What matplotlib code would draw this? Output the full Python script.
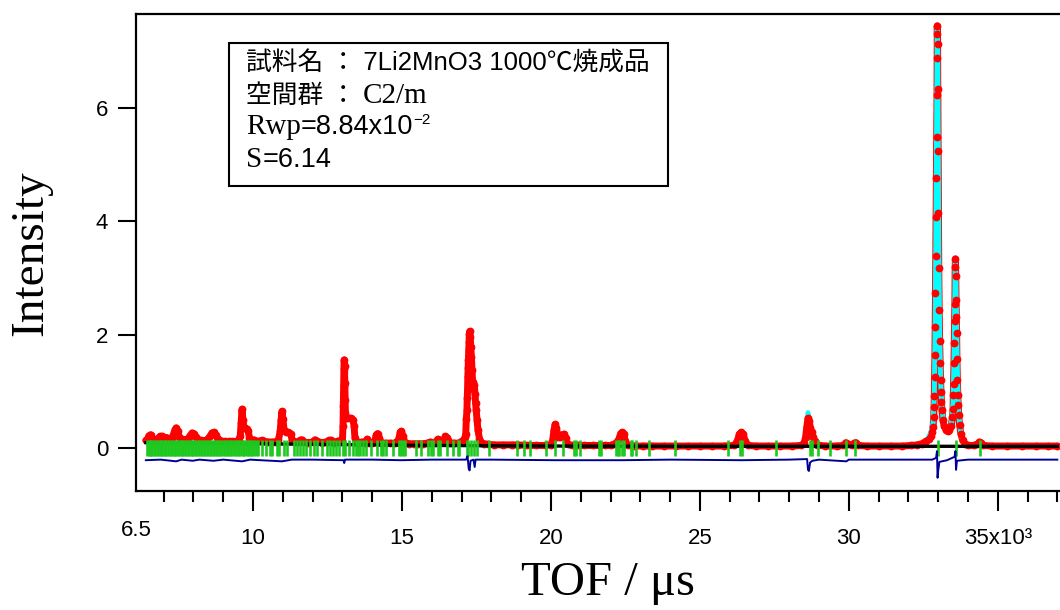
import matplotlib
matplotlib.use('Agg')
import matplotlib.pyplot as plt
from matplotlib.patches import Rectangle

SANS = ['Liberation Sans', 'Noto Sans CJK JP', 'DejaVu Sans']
SERIF = ['Liberation Serif', 'Noto Sans CJK JP', 'DejaVu Serif']
plt.rcParams['font.family'] = SANS

# ---------------- data (TOF in 10^3 us) ----------------
obs_tof = [6.40, 6.45, 6.50, 6.56, 6.62, 6.70, 6.80, 6.88, 6.95, 7.02, 7.10, 7.18, 7.27, 7.33, 7.38, 7.42,
           7.47, 7.52, 7.60, 7.70, 7.80, 7.88, 7.95, 8.01, 8.08, 8.16, 8.26, 8.36, 8.46, 8.55, 8.62, 8.68,
           8.74, 8.82, 8.92, 9.05, 9.18, 9.30, 9.42, 9.52, 9.57, 9.60, 9.63, 9.66, 9.69, 9.74, 9.79, 9.84,
           9.88, 9.95, 10.02, 10.08, 10.18, 10.30, 10.38, 10.50, 10.62, 10.75, 10.85, 10.91, 10.94, 10.97,
           11.00, 11.04, 11.10, 11.18, 11.26, 11.31, 11.40, 11.50, 11.58, 11.64, 11.70, 11.85, 12.00, 12.08,
           12.14, 12.30, 12.45, 12.55, 12.62, 12.72, 12.86, 12.93, 13.00, 13.02, 13.03, 13.04, 13.05, 13.06,
           13.07, 13.08, 13.09, 13.10, 13.13, 13.20, 13.28, 13.35, 13.39, 13.42, 13.48, 13.55, 13.65, 13.75,
           13.83, 13.90, 14.00, 14.08, 14.14, 14.18, 14.23, 14.30, 14.45, 14.60, 14.75, 14.88, 14.94, 14.98,
           15.03, 15.10, 15.25, 15.40, 15.55, 15.70, 15.85, 15.95, 16.10, 16.20, 16.26, 16.38, 16.46, 16.52,
           16.60, 16.75, 16.90, 17.00, 17.08, 17.12, 17.14, 17.16, 17.18, 17.19, 17.20, 17.21, 17.22, 17.23,
           17.24, 17.25, 17.26, 17.27, 17.29, 17.31, 17.33, 17.35, 17.37, 17.40, 17.43, 17.45, 17.47, 17.49,
           17.52, 17.55, 17.60, 17.66, 17.75, 17.90, 18.10, 18.40, 18.70, 18.90, 19.20, 19.50, 19.80, 20.00,
           20.06, 20.10, 20.14, 20.18, 20.24, 20.30, 20.38, 20.44, 20.50, 20.56, 20.70, 20.90, 21.10, 21.40,
           21.60, 21.80, 22.00, 22.12, 22.20, 22.28, 22.34, 22.39, 22.44, 22.50, 22.58, 22.80, 23.10, 23.40,
           23.80, 24.20, 24.60, 25.00, 25.40, 25.80, 26.15, 26.25, 26.33, 26.39, 26.45, 26.53, 26.62, 26.90,
           27.30, 27.70, 28.10, 28.40, 28.50, 28.55, 28.59, 28.63, 28.67, 28.71, 28.75, 28.80, 28.85, 28.92,
           29.20, 29.60, 29.82, 29.90, 29.96, 30.10, 30.18, 30.24, 30.32, 30.60, 31.00, 31.40, 31.80, 32.10,
           32.30, 32.45, 32.58, 32.70, 32.76, 32.80, 32.83, 32.85, 32.86, 32.87, 32.88, 32.89, 32.90, 32.91,
           32.92, 32.93, 32.94, 32.95, 32.96, 32.965, 32.97, 32.975, 32.98, 32.99, 33.00, 33.01, 33.02,
           33.035, 33.05, 33.065, 33.08, 33.095, 33.11, 33.13, 33.16, 33.20, 33.26, 33.32, 33.38, 33.44,
           33.48, 33.50, 33.51, 33.52, 33.53, 33.54, 33.55, 33.56, 33.57, 33.58, 33.59, 33.60, 33.61, 33.62,
           33.63, 33.645, 33.66, 33.675, 33.69, 33.72, 33.76, 33.82, 33.90, 34.00, 34.20, 34.32, 34.38,
           34.44, 34.52, 34.80, 35.30, 35.80, 36.30, 36.70, 37.00]
obs_int = [0.14, 0.15, 0.22, 0.24, 0.16, 0.14, 0.17, 0.21, 0.21, 0.19, 0.19, 0.14, 0.17, 0.25, 0.33, 0.36,
           0.30, 0.20, 0.16, 0.14, 0.16, 0.22, 0.27, 0.26, 0.20, 0.15, 0.14, 0.13, 0.15, 0.21, 0.27, 0.28,
           0.24, 0.16, 0.13, 0.12, 0.12, 0.12, 0.12, 0.13, 0.22, 0.45, 0.69, 0.50, 0.37, 0.35, 0.34, 0.30,
           0.18, 0.13, 0.15, 0.13, 0.12, 0.14, 0.12, 0.11, 0.11, 0.11, 0.14, 0.30, 0.50, 0.65,
           0.52, 0.33, 0.29, 0.28, 0.26, 0.15, 0.11, 0.11, 0.14, 0.15, 0.11, 0.10, 0.11, 0.15,
           0.12, 0.10, 0.11, 0.14, 0.14, 0.10, 0.13, 0.11, 0.13, 0.40, 0.75, 1.10, 1.40, 1.56,
           1.45, 1.15, 0.85, 0.62, 0.54, 0.53, 0.53, 0.50, 0.40, 0.18, 0.10, 0.10, 0.11, 0.10,
           0.16, 0.10, 0.09, 0.12, 0.24, 0.26, 0.18, 0.10, 0.09, 0.09, 0.09, 0.14, 0.28, 0.30,
           0.22, 0.10, 0.08, 0.08, 0.08, 0.08, 0.09, 0.11, 0.09, 0.16, 0.12, 0.12, 0.21, 0.19,
           0.10, 0.09, 0.09, 0.12, 0.14, 0.20, 0.26, 0.52, 0.67, 0.89, 1.02, 1.26, 1.41, 1.55,
           1.73, 1.88, 2.02, 2.06, 1.96, 1.79, 1.61, 1.38, 1.17, 1.10, 1.11, 0.95, 0.80, 0.67,
           0.49, 0.32, 0.17, 0.10, 0.08, 0.07, 0.06, 0.06, 0.06, 0.06, 0.05, 0.05, 0.05, 0.06,
           0.15, 0.32, 0.42, 0.36, 0.20, 0.20, 0.24, 0.25, 0.18, 0.07, 0.05, 0.05, 0.05, 0.05,
           0.05, 0.05, 0.05, 0.07, 0.10, 0.16, 0.26, 0.28, 0.26, 0.12, 0.05, 0.04, 0.04, 0.04,
           0.04, 0.04, 0.04, 0.04, 0.04, 0.04, 0.05, 0.12, 0.25, 0.28, 0.25, 0.12, 0.05, 0.04,
           0.04, 0.04, 0.04, 0.05, 0.09, 0.20, 0.38, 0.53, 0.48, 0.36, 0.28, 0.20, 0.12, 0.06,
           0.04, 0.04, 0.05, 0.10, 0.08, 0.05, 0.09, 0.10, 0.05, 0.04, 0.04, 0.04, 0.04, 0.05,
           0.06, 0.08, 0.12, 0.16, 0.22, 0.28, 0.38, 0.55, 0.72, 0.92, 1.25, 1.65, 2.14, 2.73,
           3.39, 4.08, 4.77, 5.48, 6.23, 6.88, 7.45, 7.30, 7.13, 6.33, 5.24, 4.15, 3.18,
           2.44, 1.89, 1.50, 1.20, 0.99, 0.81, 0.67, 0.49, 0.40, 0.33, 0.30, 0.32, 0.40,
           0.55, 0.70, 0.94, 1.14, 1.50, 1.85, 2.25, 2.55, 3.20, 3.34, 3.04, 2.61, 2.32, 2.03,
           1.57, 1.20, 0.94, 0.76, 0.58, 0.41, 0.26, 0.14, 0.08, 0.05, 0.05, 0.07, 0.11,
           0.10, 0.05, 0.04, 0.04, 0.04, 0.04, 0.04, 0.04]

# calculated profile around the strong reflections
calc_a_tof = [17.10, 17.14, 17.17, 17.20, 17.23, 17.26, 17.28, 17.31, 17.34, 17.37, 17.41, 17.44, 17.47,
              17.50, 17.54, 17.60, 17.68]
calc_a_int = [0.12, 0.35, 0.75, 1.25, 1.70, 2.05, 2.00, 1.80, 1.50, 1.25, 1.15, 1.10, 0.85,
              0.58, 0.35, 0.15, 0.08]
calc_b_tof = [28.45, 28.55, 28.60, 28.63, 28.66, 28.70, 28.76, 28.82, 28.90]
calc_b_int = [0.06, 0.22, 0.45, 0.63, 0.50, 0.40, 0.28, 0.16, 0.07]
calc_c_tof = [32.60, 32.75, 32.83, 32.87, 32.90, 32.93, 32.955, 32.97, 32.985, 33.00, 33.02, 33.05, 33.08,
              33.12, 33.18, 33.28, 33.38, 33.45, 33.50, 33.53, 33.555, 33.575, 33.595, 33.62, 33.65,
              33.69, 33.75, 33.85, 33.95]
calc_c_int = [0.12, 0.27, 0.45, 0.95, 2.20, 4.30, 6.20, 7.45, 6.90, 5.50, 3.50, 2.00, 1.25,
              0.75, 0.45, 0.32, 0.32, 0.45, 0.80, 1.50, 2.50, 3.34, 3.00, 2.10, 1.20,
              0.60, 0.30, 0.10, 0.05]

bg_tof = [6.40, 8.0, 10.0, 12.0, 14.0, 16.0, 18.0, 20.0, 25.0, 30.0, 37.0]
bg_int = [0.10, 0.09, 0.08, 0.07, 0.06, 0.05, 0.045, 0.04, 0.035, 0.035, 0.035]

diff_tof = [6.40, 6.90, 7.42, 7.60, 7.97, 8.20, 8.67, 9.00, 9.63, 9.90, 10.97, 11.30, 12.00, 13.04, 13.06,
            13.09, 14.00, 14.97, 16.00, 17.15, 17.20, 17.24, 17.27, 17.30, 17.40, 17.44, 17.47, 18.00,
            20.14, 22.39, 24.00, 26.40, 28.00, 28.60, 28.63, 28.66, 28.70, 28.78, 29.00, 29.92, 30.00,
            32.80, 32.93, 32.96, 32.98, 33.00, 33.04, 33.30, 33.55, 33.58, 33.60, 33.63, 34.00, 37.00]
diff_val = [-0.21, -0.20, -0.23, -0.20, -0.22, -0.20, -0.22, -0.20, -0.23, -0.20, -0.23, -0.20, -0.20,
            -0.21, -0.26, -0.20, -0.20, -0.21, -0.20, -0.20, -0.14, -0.36, -0.39, -0.22, -0.20, -0.33,
            -0.20, -0.20, -0.21, -0.21, -0.20, -0.21, -0.20, -0.19, -0.38, -0.40, -0.25, -0.22, -0.20,
            -0.23, -0.20, -0.20, -0.17, -0.05, -0.52, -0.40, -0.24, -0.21, -0.15, -0.05, -0.38, -0.22,
            -0.20, -0.20]

bragg_tof = [6.44, 6.49, 6.53, 6.58, 6.62, 6.67, 6.72, 6.76, 6.81, 6.86, 6.90, 6.95, 7.00, 7.04, 7.09,
             7.14, 7.19, 7.23, 7.28, 7.33, 7.38, 7.42, 7.47, 7.52, 7.57, 7.62, 7.66, 7.71, 7.76, 7.81,
             7.86, 7.91, 7.96, 8.00, 8.05, 8.10, 8.15, 8.20, 8.25, 8.30, 8.35, 8.40, 8.45, 8.50, 8.55,
             8.60, 8.65, 8.70, 8.75, 8.80, 8.85, 8.90, 8.96, 9.01, 9.06, 9.11, 9.17, 9.22, 9.27, 9.33,
             9.38, 9.43, 9.49, 9.54, 9.60, 9.65, 9.71, 9.76, 9.82, 9.87, 9.93, 9.98, 10.04, 10.10,
             10.16, 10.29, 10.43, 10.57, 10.65, 10.80, 10.87, 11.04, 11.13, 11.36, 11.47, 11.56, 11.67,
             11.77, 11.92, 12.06, 12.14, 12.31, 12.48, 12.59, 12.70, 12.78, 12.89, 13.02, 13.09, 13.23,
             13.35, 13.45, 13.52, 13.60, 13.68, 13.80, 13.97, 14.17, 14.30, 14.36, 14.46, 14.71, 14.91,
             14.96, 15.04, 15.11, 15.48, 15.64, 15.88, 15.97, 16.04, 16.21, 16.29, 16.51, 16.72, 16.88,
             16.91, 17.18, 17.23, 17.33, 17.43, 17.53, 17.93, 18.87, 19.10, 19.31, 19.85, 20.14, 20.42,
             20.79, 20.85, 20.99, 21.62, 21.68, 22.19, 22.26, 22.30, 22.39, 22.45, 22.70, 22.73, 22.86,
             23.30, 24.15, 25.96, 26.35, 26.42, 27.55, 28.69, 28.75, 28.96, 29.36, 29.92, 30.22, 32.98,
             33.60, 34.42]

x_major = [10, 15, 20, 25, 30, 35]
x_major_labels = ['10', '15', '20', '25', '30', '35x10³']
x_minor = list(range(7, 38))
y_major = [0, 2, 4, 6]

# ---------------- figure ----------------
W, H = 1060, 610
fig = plt.figure(figsize=(W / 100, H / 100), dpi=100)
ax = fig.add_axes([136 / W, 1 - 491 / H, (W - 136) / W, (491 - 14) / H])

RED = '#ff0000'
CYAN = '#00ffff'
# weaker reflections: calculated curve lies below the observed band
for ct, ci in [(calc_a_tof, calc_a_int), (calc_b_tof, calc_b_int)]:
    ax.plot(ct, ci, color=CYAN, lw=3.4, zorder=1.5)
ax.plot(obs_tof, obs_int, color=RED, lw=5.0, solid_joinstyle='round', solid_capstyle='round', zorder=2)
ax.plot(calc_c_tof, calc_c_int, color=CYAN, lw=3.6, zorder=3)
ax.plot(obs_tof, obs_int, 'o', color=RED, ms=5.6, mew=0, zorder=4)
ax.plot(bg_tof, bg_int, color='black', lw=2.4, zorder=5)
ax.vlines(bragg_tof, -0.14, 0.14, color='#1ec81e', lw=1.9, zorder=6)
ax.plot(diff_tof, diff_val, color='#000096', lw=1.4, zorder=6)

ax.set_xlim(6.07, 37.09)
ax.set_ylim(-0.753, 7.657)
ax.set_xticks(x_major)
ax.set_xticklabels(x_major_labels)
ax.set_xticks(x_minor, minor=True)
ax.set_yticks(y_major)
ax.set_yticklabels([str(v) for v in y_major])

ax.tick_params(axis='x', which='major', direction='out', length=14.4, width=1.5, pad=12, labelsize=16)
ax.tick_params(axis='x', which='minor', direction='out', length=8, width=1.5)
ax.tick_params(axis='y', which='major', direction='out', length=13, width=1.5, pad=7, labelsize=16)
for side in ['left', 'bottom', 'top']:
    ax.spines[side].set_linewidth(1.6)
ax.spines['right'].set_visible(False)


def fx(px):
    return px / W


def fy(py):
    return 1 - py / H


fig.text(fx(31), fy(253), 'Intensity', rotation=90, ha='center', va='center', family=SERIF, size=34)
fig.text(fx(608), fy(595), 'TOF / μs', ha='center', va='baseline', family=SERIF, size=35)
fig.text(fx(136.5), fy(530), '6.5', ha='center', va='center', size=16)

fig.patches.append(Rectangle((fx(229), fy(186)), (668 - 229) / W, (186 - 43) / H,
                             transform=fig.transFigure, fill=False, lw=1.5, ec='black'))

renderer = fig.canvas.get_renderer()


def runs(x0, base, parts):
    cx = x0
    for s, fam, size, dy in parts:
        t = fig.text(fx(cx), fy(base - dy), s, family=fam, size=size, ha='left', va='baseline')
        bb = t.get_window_extent(renderer=renderer)
        cx += bb.width


runs(246, 71, [('試料名 ： 7Li2MnO3 1000℃焼成品', SANS, 18.5, 0)])
runs(246, 103, [('空間群 ： ', SANS, 18.5, 0), ('C2/m', SERIF, 21, 0)])
runs(246, 134, [('Rwp', SERIF, 21, 0), ('=8.84x10', SANS, 19.5, 0), ('−2', SANS, 11, 10)])
runs(246, 167, [('S', SERIF, 21, 0), ('=6.14', SANS, 19.5, 0)])

fig.savefig('out.png', dpi=100)
